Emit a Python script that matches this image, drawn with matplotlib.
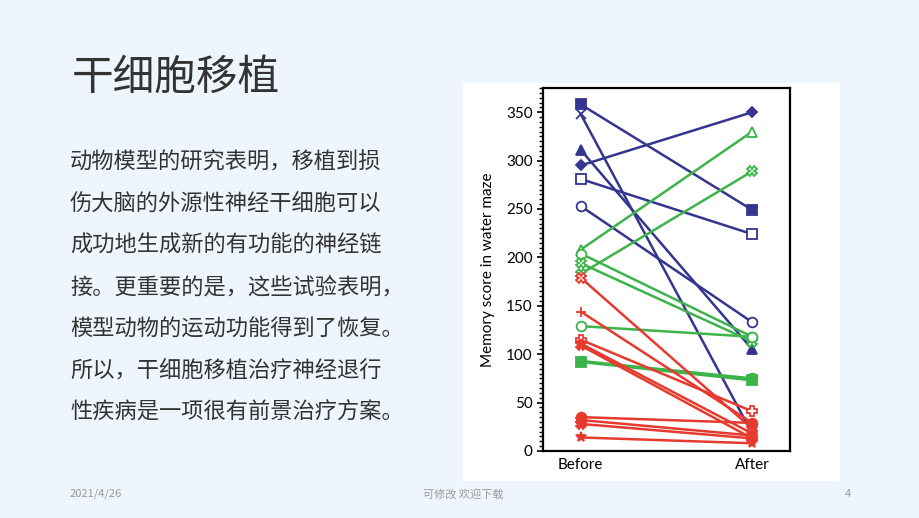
import numpy as np
import matplotlib.pyplot as plt
from matplotlib.ticker import MultipleLocator

plt.rcParams['font.family'] = ['Noto Sans CJK SC', 'DejaVu Sans']

# rats: score before and after, group colour, marker, filled?
before = [358, 348, 311, 295, 281, 253,
          208, 204, 194, 183, 129, 93, 92,
          179, 144, 115, 111, 109, 35, 32, 28, 14]
after = [249, 18, 105, 350, 224, 133,
         330, 118, 113, 289, 118, 75, 73,
         23, 29, 41, 18, 13, 29, 16, 13, 8]
group = ['b'] * 6 + ['g'] * 7 + ['r'] * 9
markers = ['s', 'x', '^', 'D', 's', 'o',
           '^', 'o', 'X', 'X', 'o', 'o', 's',
           'X', '+', 'P', '*', 'X', 'o', 'X', 'X', '*']
filled = [True, True, True, True, False, False,
          False, False, False, False, False, True, True,
          False, True, False, True, True, True, True, True, True]
xlabels = ['Before', 'After']

title = '干细胞移植'
body = ['动物模型的研究表明，移植到损',
        '伤大脑的外源性神经干细胞可以',
        '成功地生成新的有功能的神经链',
        '接。更重要的是，这些试验表明，',
        '模型动物的运动功能得到了恢复。',
        '所以，干细胞移植治疗神经退行',
        '性疾病是一项很有前景治疗方案。']

colors = {'b': '#34358f', 'g': '#3cb44a', 'r': '#e63a2e'}

fig = plt.figure(figsize=(9.2, 5.18), dpi=100, facecolor='#eef5fc')

# slide text
fig.text(72/920, 1 - 78/518, title, fontsize=30, color='#333333', va='center', ha='left')
for i, line in enumerate(body):
    fig.text(70/920, 1 - (162 + i*41.7)/518, line, fontsize=16, color='#333333',
             va='center', ha='left')
fig.text(70/920, 1 - 494/518, '2021/4/26', fontsize=8, color='#9a9a9a', va='center')
fig.text(463/920, 1 - 494/518, '可修改 欢迎下载', fontsize=8, color='#9a9a9a',
         va='center', ha='center')
fig.text(848/920, 1 - 494/518, '4', fontsize=8, color='#9a9a9a', va='center', ha='center')

# white picture box behind the chart
bg = fig.add_axes([463/920, 1 - 481/518, 377/920, 398/518], zorder=0)
bg.set_facecolor('white')
bg.set_xticks([])
bg.set_yticks([])
for s in bg.spines.values():
    s.set_visible(False)

ax = fig.add_axes([543/920, 1 - 451/518, 247/920, 363/518], zorder=1)
ax.set_facecolor('white')
for b, a, g, m, f in zip(before, after, group, markers, filled):
    c = colors[g]
    ax.plot([0, 1], [b, a], color=c, lw=1.8, marker=m, ms=5.5 if m == 'D' else 7,
            markerfacecolor=c if f else 'white', markeredgecolor=c,
            markeredgewidth=1.3, clip_on=False)

ax.set_xlim(-0.22, 1.22)
ax.set_ylim(0, 375)
ax.set_xticks([0, 1])
ax.set_xticklabels(xlabels, family=['Lato', 'DejaVu Sans'], fontsize=11)
ax.tick_params(axis='x', length=0, pad=5)
ax.yaxis.set_major_locator(MultipleLocator(50))
ax.yaxis.set_minor_locator(MultipleLocator(5))
ax.tick_params(axis='y', which='major', direction='out', length=4, width=1.2, labelsize=11)
ax.tick_params(axis='y', which='minor', direction='out', length=3, width=1.0)
for lab in ax.get_yticklabels():
    lab.set_family(['Lato', 'DejaVu Sans'])
for s in ax.spines.values():
    s.set_linewidth(1.6)
ax.set_ylabel('Memory score in water maze', family=['Lato', 'DejaVu Sans'],
              fontsize=11, labelpad=8)

fig.savefig('out.png', dpi=100, facecolor=fig.get_facecolor())
